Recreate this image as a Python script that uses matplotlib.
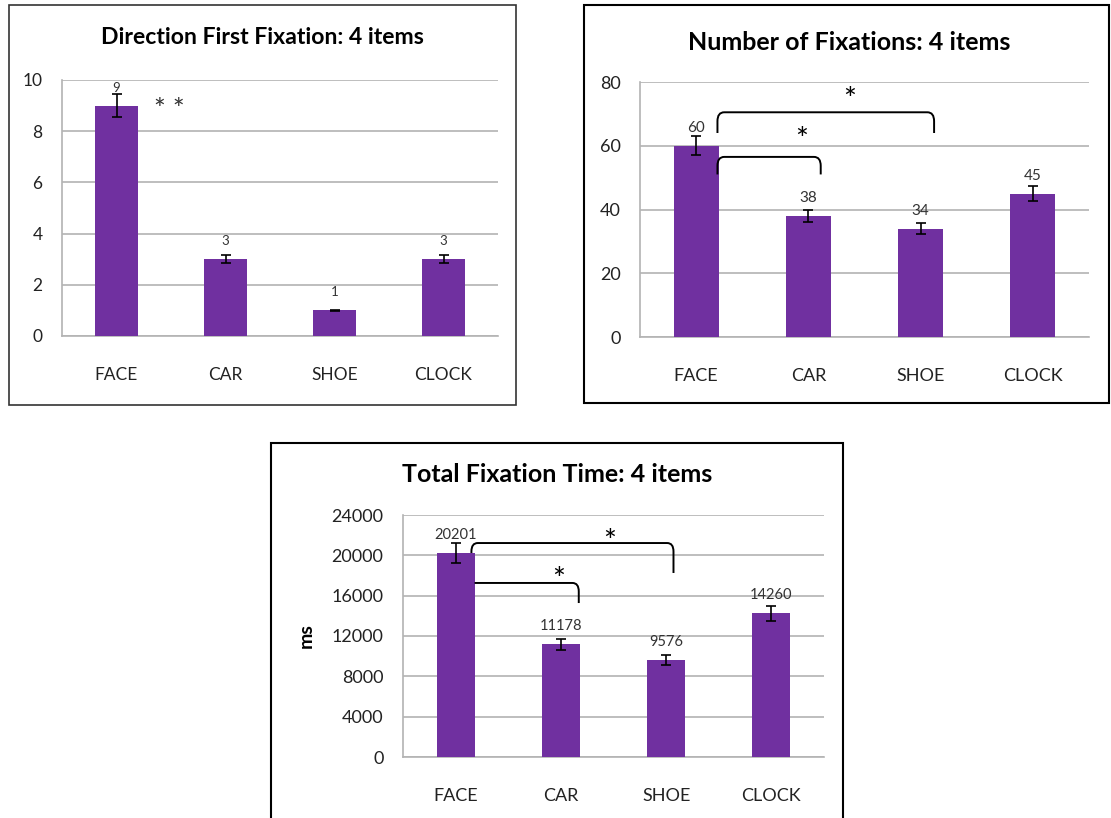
import matplotlib.pyplot as plt
from matplotlib.patches import Rectangle, PathPatch
from matplotlib.path import Path

plt.rcParams['font.family'] = ['Lato', 'DejaVu Sans']

categories = ['FACE', 'CAR', 'SHOE', 'CLOCK']

# Direction First Fixation
first_vals = [9, 3, 1, 3]
first_err = [0.45, 0.15, 0.03, 0.15]
first_labels = ['9', '3', '1', '3']

# Number of Fixations
num_vals = [60, 38, 34, 45]
num_err = [3, 2, 1.7, 2.3]
num_labels = ['60', '38', '34', '45']

# Total Fixation Time (ms)
time_vals = [20201, 11178, 9576, 14260]
time_err = [1000, 550, 500, 750]
time_labels = ['20201', '11178', '9576', '14260']

# significance brackets: (x0, x1, y_left, y_top, y_right), star (x, y)
num_brackets = [(0.19, 2.12, 64, 70.5, 64), (0.19, 1.11, 51, 56.5, 51)]
num_stars = [(1.37, 76.5), (0.94, 64)]
time_brackets = [(0.15, 2.07, 20230, 21220, 18250), (0.18, 1.17, 17260, 17260, 15270)]
time_stars = [(1.46, 22000), (0.98, 18250)]

purple = '#7030A0'
W, H = 1111, 818
fig = plt.figure(figsize=(W / 100, H / 100), dpi=100)


def fx(px):
    return px / W


def fy(py):
    return 1 - py / H


def frame(x0, y0, x1, y1, color='black', lw=1.5):
    fig.patches.append(Rectangle((fx(x0), fy(y1)), fx(x1 - x0), (y1 - y0) / H,
                                 transform=fig.transFigure, fill=False,
                                 edgecolor=color, linewidth=lw))


def make_axes(l, t, r, b):
    return fig.add_axes([fx(l), fy(b), fx(r - l), (b - t) / H])


def bar_panel(ax, vals, errs, labels, ymax, step, width, tick_fs, lab_fs):
    x = range(len(categories))
    ax.bar(x, vals, width=width, color=purple, zorder=3)
    ax.errorbar(x, vals, yerr=errs, fmt='none', ecolor='black', elinewidth=1.2,
                capsize=3.5, capthick=1.2, zorder=4)
    for i, (v, lab) in enumerate(zip(vals, labels)):
        ax.annotate(lab, (i, v), xytext=(0, 13), textcoords='offset points',
                    ha='center', va='center', fontsize=lab_fs, color='#333333', zorder=5)
    ax.set_xlim(-0.5, len(categories) - 0.5)
    ax.set_ylim(0, ymax)
    ax.set_yticks(range(0, ymax + 1, step))
    ax.set_xticks(list(x))
    ax.set_xticklabels(categories)
    ax.yaxis.grid(True, color='#b3b3b3', linewidth=1.2, zorder=0)
    ax.set_axisbelow(True)
    for s in ['top', 'right']:
        ax.spines[s].set_visible(False)
    for s in ['left', 'bottom']:
        ax.spines[s].set_color('#b3b3b3')
        ax.spines[s].set_linewidth(1.2)
    ax.tick_params(length=0, labelsize=tick_fs, colors='#222222')
    ax.tick_params(axis='x', pad=22)
    ax.tick_params(axis='y', pad=14)
    ax.patch.set_alpha(0)


def bracket(ax, x0, x1, y_left, y_top, y_right, dx=0.06, dy_frac=0.035):
    dy = dy_frac * ax.get_ylim()[1]
    if y_left < y_top:
        verts = [(x0, y_left), (x0, y_top - dy), (x0, y_top), (x0 + dx, y_top)]
        codes = [Path.MOVETO, Path.LINETO, Path.CURVE3, Path.CURVE3]
    else:
        verts = [(x0, y_top)]
        codes = [Path.MOVETO]
    verts += [(x1 - dx, y_top), (x1, y_top), (x1, y_top - dy), (x1, y_right)]
    codes += [Path.LINETO, Path.CURVE3, Path.CURVE3, Path.LINETO]
    ax.add_patch(PathPatch(Path(verts, codes), fill=False, edgecolor='black',
                           linewidth=1.4, zorder=6, clip_on=False))


def star(ax, sx, sy, txt='*', size=22, color='black'):
    # Lato's asterisk sits high in the em box; shift down so its centre lands on (sx, sy)
    ax.annotate(txt, (sx, sy), xytext=(0, -size * 0.22), textcoords='offset points',
                ha='center', va='center', fontsize=size, color=color, zorder=7)


# Panel 1
frame(9, 5, 516, 405, color='#333333', lw=1.2)
ax1 = make_axes(62, 80, 498, 336)
bar_panel(ax1, first_vals, first_err, first_labels, 10, 2, 0.39, 12.5, 9.5)
star(ax1, 0.48, 9.02, txt='* *', size=20, color='#333333')
fig.text(fx(262), fy(37), 'Direction First Fixation: 4 items', ha='center', va='center',
         fontsize=16.6, fontweight='bold')

# Panel 2
frame(584, 5, 1109, 403)
ax2 = make_axes(640, 82, 1089, 337)
bar_panel(ax2, num_vals, num_err, num_labels, 80, 20, 0.4, 13, 11)
for b in num_brackets:
    bracket(ax2, *b)
for sx, sy in num_stars:
    star(ax2, sx, sy)
fig.text(fx(849), fy(42), 'Number of Fixations: 4 items', ha='center', va='center',
         fontsize=18, fontweight='bold')

# Panel 3
frame(271, 443, 843, 830)
ax3 = make_axes(403, 515, 824, 757)
bar_panel(ax3, time_vals, time_err, time_labels, 24000, 4000, 0.36, 13, 10.5)
for b in time_brackets:
    bracket(ax3, *b)
for sx, sy in time_stars:
    star(ax3, sx, sy)
ax3.set_ylabel('ms', fontsize=14, fontweight='bold', labelpad=12)
fig.text(fx(557), fy(475), 'Total Fixation Time: 4 items', ha='center', va='center',
         fontsize=18, fontweight='bold')

fig.savefig('out.png', dpi=100)
